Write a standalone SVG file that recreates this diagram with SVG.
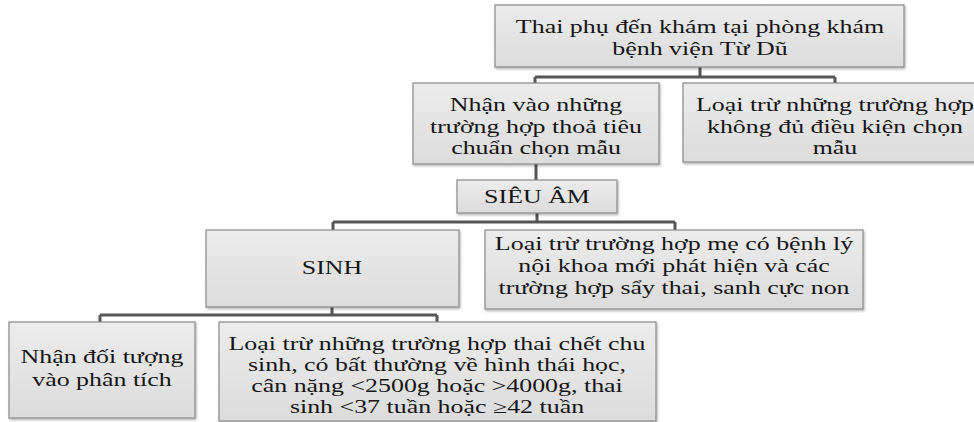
<svg xmlns="http://www.w3.org/2000/svg" width="974" height="422" viewBox="0 0 974 422">
<defs>
<linearGradient id="g" x1="0" y1="0" x2="0" y2="1">
<stop offset="0" stop-color="#ececec"/>
<stop offset="1" stop-color="#dcdcdc"/>
</linearGradient>
<filter id="sh" x="-5%" y="-5%" width="110%" height="115%">
<feDropShadow dx="1" dy="1.5" stdDeviation="1" flood-color="#000" flood-opacity="0.3"/>
</filter>
<style>
.box{fill:url(#g);stroke:#8a8a8a;stroke-width:1.2;filter:url(#sh)}
.t{font-family:"Liberation Serif","Times New Roman",serif;font-size:18px;fill:#151515;text-anchor:middle}
.c{fill:none;stroke:#555;stroke-width:3}
</style>
</defs>
<rect width="974" height="422" fill="#fff"/>
<g id="connectors">
<path class="c" d="M700 67V77M535 77H835M535 77V83M835 77V83"/>
<path class="c" d="M536 164V180"/>
<path class="c" d="M537 213V222M333 222H675M333 222V230M675 222V230"/>
<path class="c" d="M332 307V315M100 315H437M100 315V322M437 315V322"/>
</g>
<g id="n1">
<rect class="box" x="495" y="5" width="409" height="62"/>
<text class="t" transform="translate(700 33) scale(1.44 1)">Thai phụ đến khám tại phòng khám</text>
<text class="t" transform="translate(700 55) scale(1.44 1)">bệnh viện Từ Dũ</text>
</g>
<g id="n2">
<rect class="box" x="413" y="83" width="246" height="81"/>
<text class="t" transform="translate(536 111) scale(1.44 1)">Nhận vào những</text>
<text class="t" transform="translate(536 132.5) scale(1.44 1)">trường hợp thoả tiêu</text>
<text class="t" transform="translate(536 154) scale(1.44 1)">chuẩn chọn mẫu</text>
</g>
<g id="n3">
<rect class="box" x="683" y="83" width="304" height="79"/>
<text class="t" transform="translate(835 111) scale(1.44 1)">Loại trừ những trường hợp</text>
<text class="t" transform="translate(835 132.5) scale(1.44 1)">không đủ điều kiện chọn</text>
<text class="t" transform="translate(835 154) scale(1.44 1)">mẫu</text>
</g>
<g id="n4">
<rect class="box" x="457" y="180" width="160" height="33"/>
<text class="t" transform="translate(537 203) scale(1.44 1)">SIÊU ÂM</text>
</g>
<g id="n5">
<rect class="box" x="206" y="230" width="253" height="77"/>
<text class="t" transform="translate(332 274) scale(1.44 1)">SINH</text>
</g>
<g id="n6">
<rect class="box" x="485" y="230" width="378" height="79"/>
<text class="t" transform="translate(674 250) scale(1.44 1)">Loại trừ trường hợp mẹ có bệnh lý</text>
<text class="t" transform="translate(674 272) scale(1.44 1)">nội khoa mới phát hiện và các</text>
<text class="t" transform="translate(674 294) scale(1.44 1)">trường hợp sẩy thai, sanh cực non</text>
</g>
<g id="n7">
<rect class="box" x="9" y="322" width="186" height="96"/>
<text class="t" transform="translate(102 363) scale(1.44 1)">Nhận đối tượng</text>
<text class="t" transform="translate(102 386) scale(1.44 1)">vào phân tích</text>
</g>
<g id="n8">
<rect class="box" x="219" y="322" width="437" height="99"/>
<text class="t" transform="translate(437 350) scale(1.44 1)">Loại trừ những trường hợp thai chết chu</text>
<text class="t" transform="translate(437 371) scale(1.44 1)">sinh, có bất thường về hình thái học,</text>
<text class="t" transform="translate(437 392) scale(1.44 1)">cân nặng &lt;2500g hoặc &gt;4000g, thai</text>
<text class="t" transform="translate(437 413) scale(1.44 1)">sinh &lt;37 tuần hoặc ≥42 tuần</text>
</g>
</svg>
